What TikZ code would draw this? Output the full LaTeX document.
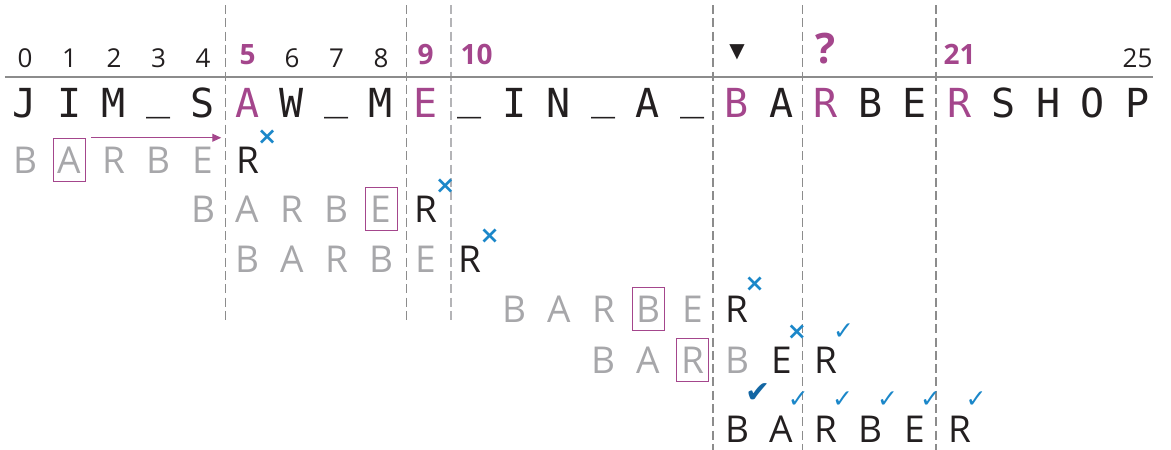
\documentclass[tikz,border=0pt]{standalone}
\usepackage{fontspec}
\setmainfont{Open Sans}
\newfontfamily\monoface{DejaVu Sans Mono}
\newfontfamily\markface{DejaVu Sans}
\usetikzlibrary{arrows.meta}
\definecolor{hitc}{HTML}{A4468C}
\definecolor{inkc}{HTML}{231F20}
\definecolor{dimc}{HTML}{A7A7AA}
\definecolor{tickc}{HTML}{1B87C9}
\definecolor{tickdark}{HTML}{1366A3}
\definecolor{rulec}{HTML}{8C8C8C}
\newcommand\gapch{\raisebox{.2em}{\_}}
\tikzset{
  letter/.style={inner sep=0pt, anchor=base, font=\fontsize{37}{37}\selectfont},
  faded/.style={letter, text=dimc},
  shown/.style={letter, text=inkc},
  mainch/.style={inner sep=0pt, anchor=base, font=\monoface\fontsize{40}{40}\selectfont},
  numlabel/.style={inner sep=0pt, anchor=base, text=inkc, font=\fontsize{26}{26}\selectfont},
  hitnum/.style={numlabel, text=hitc, font=\bfseries\fontsize{28}{28}\selectfont},
  probe/.style={draw=hitc, line width=1pt, minimum width=32pt, minimum height=43pt, inner sep=0pt},
  miss/.style={inner sep=0pt, text=tickc, font=\markface\bfseries\fontsize{24}{24}\selectfont},
  match/.style={inner sep=0pt, text=tickc, font=\markface\fontsize{25}{25}\selectfont},
  guide/.style={rulec, line width=1.2pt, dash pattern=on 9pt off 4.3pt},
}
\begin{document}
\begin{tikzpicture}[x=44.5pt,y=-1pt]
  \useasboundingbox (-0.5618,0) rectangle (25.753,450);
  % alignment guides
  \foreach \g/\e in {4.5/320, 8.58/320, 15.46/450, 17.48/450, 20.47/450}
    \draw[guide] (\g,5) -- (\g,\e);
  \draw[guide, dimc!85, line width=2pt] (9.57,5) -- (9.57,322);
  \coordinate (cut) at (4.5,0);
  \draw[rulec, line width=2pt] (-0.45,77) -- (25.35,77);
  % indices
  \foreach \n in {0,...,4,6,7,8}
    \node[numlabel] (n\n) at (\n,67) {\n};
  \node[numlabel] (n25) at (25,67) {25};
  \foreach \n in {5,9,21}
    \node[hitnum] (n\n) at (\n,64) {\n};
  \node[hitnum] (n10) at (10.15,64) {10};
  \node[hitnum, font=\bfseries\fontsize{42}{42}\selectfont] (n18) at (18,63) {?};
  \node[inner sep=0pt, text=inkc, font=\markface\fontsize{20}{20}\selectfont] (n16) at (16,52) {▼};
  % text
  \foreach \c [count=\i from 0] in {J,I,M,\gapch,S,A,W,\gapch,M,E,\gapch,I,N,\gapch,A,\gapch,B,A,R,B,E,R,S,H,O,P}{
    \pgfmathtruncatemacro\ishit{(\i==5)||(\i==9)||(\i==16)||(\i==18)||(\i==21)}
    \ifnum\ishit=1 \def\tone{hitc}\else\def\tone{inkc}\fi
    \node[mainch, text=\tone] (m\i) at (\i,117) {\c};
  }
  % shift 1
  \foreach \c [count=\k from 0] in {B,A,R,B,E}
    \node[faded] (a\k) at (\k,173) {\c};
  \node[shown] (a5) at (5,173) {R};
  \node[probe] (pa) at (a1) {};
  \draw[hitc, line width=1pt, -{Triangle[length=9pt,width=8pt]}]
    ([xshift=5pt]pa.north east) -- ([xshift=-4pt]pa.north east -| cut);
  \node[miss] (xa) at ([shift={(8pt,9pt)}]a5.north east) {×};
  % shift 2
  \foreach \c [count=\k from 4] in {B,A,R,B,E}
    \node[faded] (b\k) at (\k,222) {\c};
  \node[shown] (b9) at (9,222) {R};
  \node[probe] (pb) at (b8) {};
  \node[miss] (xb) at ([shift={(8pt,9pt)}]b9.north east) {×};
  % shift 3
  \foreach \c [count=\k from 5] in {B,A,R,B,E}
    \node[faded] (c\k) at (\k,272) {\c};
  \node[shown] (c10) at (10,272) {R};
  \node[miss] (xc) at ([shift={(8pt,9pt)}]c10.north east) {×};
  % shift 4
  \foreach \c [count=\k from 11] in {B,A,R,B,E}
    \node[faded] (d\k) at (\k,322) {\c};
  \node[shown] (d16) at (16,322) {R};
  \node[probe] (pd) at (d14) {};
  \node[miss] (xd) at ([shift={(6pt,11pt)}]d16.north east) {×};
  % shift 5
  \foreach \c [count=\k from 13] in {B,A,R,B}
    \node[faded] (e\k) at (\k,373) {\c};
  \node[shown] (e17) at (17,373) {E};
  \node[shown] (e18) at (18,373) {R};
  \node[probe] (pe) at (e15) {};
  \node[miss] (xe) at ([shift={(5pt,14pt)}]e17.north east) {×};
  \node[match] (ve) at ([shift={(6pt,15pt)}]e18.north east) {✓};
  % match
  \foreach \c [count=\k from 16] in {B,A,R,B,E,R}
    \node[shown] (f\k) at (\k,442) {\c};
  \node[match, text=tickdark, font=\markface\fontsize{30}{30}\selectfont] (vf) at ([shift={(9pt,22pt)}]f16.north east) {✔};
  \foreach \k in {17,...,21}
    \node[match] (v\k) at ([shift={(5pt,16pt)}]f\k.north east) {✓};
\end{tikzpicture}
\end{document}
